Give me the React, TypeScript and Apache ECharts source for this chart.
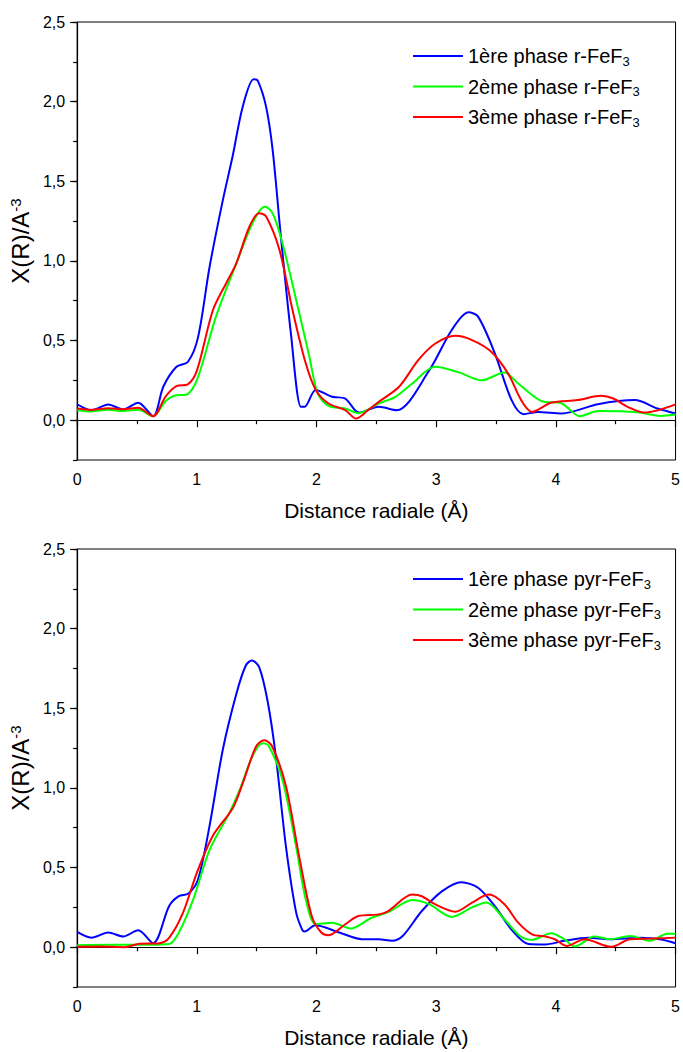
import React, { useEffect, useRef } from "react";
import * as echarts from "echarts";

const xTicks = [0, 1, 2, 3, 4, 5];
const yMajorTicks = [0, 0.5, 1.0, 1.5, 2.0, 2.5];

const topNames = ["1ère phase r-FeF3", "2ème phase r-FeF3", "3ème phase r-FeF3"];
const bottomNames = ["1ère phase pyr-FeF3", "2ème phase pyr-FeF3", "3ème phase pyr-FeF3"];
const colors = ["#0000FF", "#00FF00", "#FF0000"];

const topBlue = [[0,0.10],[0.12,0.063],[0.26,0.099],[0.385,0.067],[0.51,0.11],[0.635,0.025],[0.72,0.21],[0.83,0.335],[0.926,0.367],[1.01,0.52],[1.106,0.96],[1.217,1.38],[1.30,1.66],[1.384,1.97],[1.475,2.14],[1.51,2.13],[1.578,1.97],[1.633,1.70],[1.70,1.17],[1.786,0.545],[1.87,0.084],[1.90,0.084],[1.994,0.19],[2.13,0.147],[2.24,0.136],[2.354,0.048],[2.52,0.084],[2.67,0.063],[2.94,0.31],[3.13,0.566],[3.27,0.677],[3.35,0.65],[3.49,0.42],[3.63,0.126],[3.73,0.038],[3.85,0.052],[4.05,0.042],[4.35,0.10],[4.66,0.126],[4.85,0.073],[5.0,0.042]];
const topGreen = [[0,0.063],[0.12,0.055],[0.26,0.065],[0.385,0.058],[0.51,0.065],[0.635,0.025],[0.74,0.12],[0.83,0.157],[0.91,0.16],[1.0,0.25],[1.16,0.65],[1.33,0.985],[1.44,1.195],[1.52,1.31],[1.57,1.34],[1.633,1.30],[1.716,1.11],[1.83,0.755],[1.94,0.40],[2.01,0.168],[2.10,0.09],[2.24,0.073],[2.35,0.044],[2.52,0.105],[2.66,0.147],[2.80,0.23],[2.99,0.335],[3.19,0.30],[3.38,0.25],[3.57,0.30],[3.685,0.23],[3.88,0.12],[4.05,0.105],[4.20,0.025],[4.35,0.057],[4.68,0.05],[4.875,0.027],[5.0,0.035]];
const topRed = [[0,0.073],[0.12,0.065],[0.26,0.075],[0.385,0.068],[0.51,0.078],[0.635,0.025],[0.74,0.15],[0.83,0.214],[0.926,0.226],[1.0,0.31],[1.134,0.69],[1.245,0.86],[1.33,0.985],[1.44,1.216],[1.52,1.30],[1.578,1.28],[1.69,1.07],[1.80,0.69],[1.91,0.357],[1.994,0.19],[2.1,0.105],[2.24,0.063],[2.33,0.01],[2.43,0.063],[2.52,0.115],[2.69,0.21],[2.85,0.377],[2.99,0.48],[3.16,0.53],[3.30,0.503],[3.46,0.43],[3.60,0.294],[3.71,0.126],[3.80,0.052],[3.96,0.109],[4.18,0.126],[4.38,0.153],[4.48,0.136],[4.60,0.084],[4.74,0.048],[5.0,0.099]];

const botBlue = [[0,0.096],[0.12,0.06],[0.26,0.092],[0.385,0.067],[0.51,0.106],[0.635,0.025],[0.77,0.26],[0.85,0.32],[0.93,0.337],[1.01,0.425],[1.106,0.76],[1.217,1.24],[1.33,1.59],[1.41,1.77],[1.46,1.80],[1.52,1.76],[1.59,1.55],[1.66,1.20],[1.745,0.63],[1.83,0.217],[1.88,0.11],[1.90,0.098],[1.99,0.137],[2.19,0.092],[2.38,0.05],[2.52,0.05],[2.63,0.04],[2.72,0.07],[2.88,0.227],[3.05,0.352],[3.21,0.408],[3.35,0.373],[3.49,0.258],[3.63,0.11],[3.77,0.02],[3.91,0.017],[4.07,0.04],[4.27,0.06],[4.45,0.05],[4.71,0.06],[4.87,0.05],[5.0,0.025]];
const botGreen = [[0,0.0125],[0.3,0.015],[0.6,0.015],[0.77,0.02],[0.85,0.092],[0.97,0.30],[1.106,0.61],[1.27,0.84],[1.36,0.99],[1.465,1.20],[1.55,1.28],[1.6,1.265],[1.716,1.05],[1.83,0.63],[1.91,0.30],[1.994,0.144],[2.13,0.154],[2.285,0.117],[2.46,0.185],[2.60,0.22],[2.80,0.296],[2.94,0.27],[3.13,0.19],[3.30,0.25],[3.42,0.28],[3.57,0.175],[3.70,0.07],[3.80,0.046],[3.96,0.088],[4.07,0.05],[4.16,0.004],[4.32,0.067],[4.45,0.05],[4.62,0.07],[4.79,0.04],[4.93,0.085],[5.0,0.085]];
const botRed = [[0,0.002],[0.2,0.005],[0.4,0.0],[0.51,0.02],[0.69,0.025],[0.77,0.06],[0.885,0.217],[1.0,0.467],[1.134,0.70],[1.30,0.873],[1.384,1.03],[1.495,1.26],[1.564,1.30],[1.63,1.26],[1.745,1.01],[1.855,0.57],[1.96,0.196],[2.04,0.092],[2.10,0.075],[2.24,0.144],[2.35,0.196],[2.52,0.206],[2.60,0.227],[2.80,0.33],[2.88,0.32],[2.99,0.27],[3.16,0.223],[3.30,0.28],[3.44,0.33],[3.57,0.27],[3.685,0.154],[3.81,0.077],[3.89,0.07],[3.99,0.05],[4.09,0.008],[4.24,0.05],[4.46,0.002],[4.62,0.05],[4.81,0.054],[5.0,0.06]];

const FONT = "'Liberation Sans', Arial, sans-serif";

export default function App() {
  const ref = useRef<HTMLDivElement>(null);
  useEffect(() => {
    document.body.style.margin = "0";
    const chart = echarts.init(ref.current!, null, { renderer: "svg" });
    const grids = [
      { left: 77, top: 22, width: 601, height: 438, show: true, borderColor: "#000", borderWidth: 1 },
      { left: 77, top: 549, width: 601, height: 438, show: true, borderColor: "#000", borderWidth: 1 },
    ];
    const xAxes = [0, 1].map((g) => ({
      type: "value",
      gridIndex: g,
      min: 0,
      max: 5,
      interval: 1,
      name: "Distance radiale (Å)",
      nameLocation: "middle",
      nameGap: 40,
      nameTextStyle: { fontFamily: FONT, fontSize: 21, color: "#000" },
      axisLine: { show: true, lineStyle: { color: "#000", width: 1.2 } },
      axisTick: { show: true, length: 7, lineStyle: { color: "#000", width: 1.2 } },
      minorTick: { show: true, splitNumber: 2, length: 4, lineStyle: { color: "#000", width: 1.2 } },
      splitLine: { show: false },
      axisLabel: {
        customValues: xTicks,
        margin: 11,
        fontFamily: FONT,
        fontSize: 16,
        color: "#000",
        formatter: (v: number) => String(v),
      },
    }));
    const yAxes: any[] = [];
    [0, 1].forEach((g) => {
      yAxes.push({
        type: "value",
        gridIndex: g,
        min: -0.25,
        max: 2.5,
        interval: 0.25,
        name: "{a|X(R)/A}{b|-3}",
        nameLocation: "middle",
        nameGap: 42,
        nameRotate: 90,
        nameTextStyle: {
          color: "#000",
          rich: {
            a: { fontFamily: FONT, fontSize: 24, color: "#000" },
            b: { fontFamily: FONT, fontSize: 15, color: "#000", verticalAlign: "top" },
          },
        },
        axisLine: { show: true, lineStyle: { color: "#000", width: 1.2 } },
        axisTick: { show: true, length: 4, lineStyle: { color: "#000", width: 1.2 } },
        splitLine: { show: false },
        axisLabel: {
          customValues: yMajorTicks,
          margin: 12,
          fontFamily: FONT,
          fontSize: 16,
          color: "#000",
          formatter: (v: number) => v.toFixed(1).replace(".", ","),
        },
      });
    });
    [0, 1].forEach((g) => {
      yAxes.push({
        type: "value",
        gridIndex: g,
        position: "left",
        min: -0.25,
        max: 2.5,
        axisLine: { show: false },
        axisTick: { show: true, customValues: yMajorTicks, length: 7, lineStyle: { color: "#000", width: 1.2 } },
        axisLabel: { show: false },
        splitLine: { show: false },
      });
    });
    const mk = (name: string, data: number[][], color: string, g: number) => ({
      type: "line",
      name,
      data,
      xAxisIndex: g,
      yAxisIndex: g,
      smooth: 0.3,
      symbol: "none",
      lineStyle: { color, width: 2 },
      itemStyle: { color },
      z: 3,
    });
    const series = [
      mk(topNames[0], topBlue, colors[0], 0),
      mk(topNames[1], topGreen, colors[1], 0),
      mk(topNames[2], topRed, colors[2], 0),
      mk(bottomNames[0], botBlue, colors[0], 1),
      mk(bottomNames[1], botGreen, colors[1], 1),
      mk(bottomNames[2], botRed, colors[2], 1),
    ];
    const legendText = {
      color: "#000",
      rich: {
        n: { fontFamily: FONT, fontSize: 20, color: "#000" },
        s: { fontFamily: FONT, fontSize: 13, color: "#000", verticalAlign: "bottom", padding: [10, 0, 0, 0] },
      },
    };
    const fmt = (name: string) => `{n|${name.slice(0, -1)}}{s|${name.slice(-1)}}`;
    const mkLegend = (names: string[], top: number) => ({
      data: names,
      orient: "vertical",
      left: 408,
      top,
      itemWidth: 50,
      itemHeight: 14,
      itemGap: 9,
      icon: "path://M0,6L50,6L50,8L0,8Z",
      formatter: fmt,
      textStyle: legendText,
      selectedMode: false,
    });
    chart.setOption({
      animation: false,
      backgroundColor: "#fff",
      grid: grids,
      xAxis: xAxes,
      yAxis: yAxes,
      legend: [mkLegend(topNames, 41), mkLegend(bottomNames, 564)],
      series,
    });
    return () => chart.dispose();
  }, []);
  return <div ref={ref} style={{ width: 683, height: 1052 }} />;
}
